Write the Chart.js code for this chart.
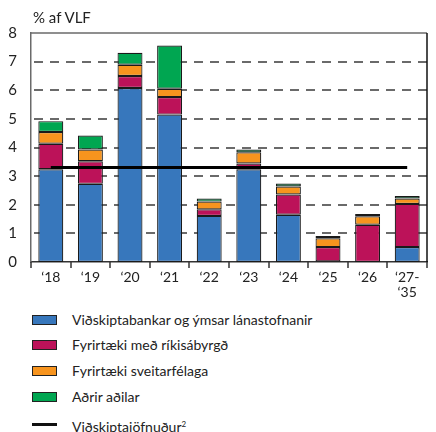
<!DOCTYPE html>
<html>
<head>
<meta charset="utf-8">
<script src="https://cdn.jsdelivr.net/npm/chart.js@4/dist/chart.umd.min.js"></script>
<style>
  body { margin: 0; background: #fff; font-family: Lato, sans-serif; color: #222; }
  #wrap { position: relative; width: 436px; height: 432px; }
  #chart-box { position: absolute; left: 0; top: 0; width: 436px; height: 300px; }
  #unit { position: absolute; left: 33px; top: 8px; font-size: 15px; }
  .leg { position: absolute; left: 31px; font-size: 14px; height: 20px; line-height: 20px; }
  .leg .sw { position: absolute; left: 1px; top: 5px; width: 23px; height: 8px; border: 1px solid #222; }
  .leg .ln { position: absolute; left: 1px; top: 9px; width: 25px; height: 3px; background: #111; }
  .leg span.t { position: absolute; left: 41px; white-space: nowrap; }
  sup { font-size: 8px; vertical-align: 5px; }
</style>
</head>
<body>
<div id="wrap">
  <div id="chart-box"><canvas id="chart"></canvas></div>
  <div id="unit">% af VLF</div>
  <div id="legend"></div>
</div>
<script>
const labels = ['‘18', '‘19', '‘20', '‘21', '‘22', '‘23', '‘24', '‘25', '‘26', ['‘27-', '‘35']];
const banks = [3.24, 2.73, 6.08, 5.15, 1.61, 3.24, 1.65, 0.02, 0, 0.52];
const stateGuaranteed = [0.89, 0.79, 0.42, 0.61, 0.23, 0.20, 0.71, 0.50, 1.30, 1.51];
const municipal = [0.41, 0.41, 0.39, 0.29, 0.27, 0.39, 0.28, 0.31, 0.30, 0.19];
const others = [0.38, 0.49, 0.42, 1.51, 0.11, 0.10, 0.10, 0.08, 0.08, 0.09];
const currentAccount = [3.3, 3.3, 3.3, 3.3, 3.3, 3.3, 3.3, 3.3, 3.3, 3.3];
const yMin = 0;
const yMax = 8;
const yStep = 1;

const series = [
    { label: 'Viðskiptabankar og ýmsar lánastofnanir', data: banks, color: '#3777bc' },
    { label: 'Fyrirtæki með ríkisábyrgð', data: stateGuaranteed, color: '#bc1259' },
    { label: 'Fyrirtæki sveitarfélaga', data: municipal, color: '#f7941e' },
    { label: 'Aðrir aðilar', data: others, color: '#00a651' }
];

// dashed gridlines, x tick marks and the top/right frame, placed with the chart's own scales
const frame = {
    id: 'frame',
    beforeDatasetsDraw(chart) {
        const { ctx, chartArea: a, scales: { x, y } } = chart;
        ctx.save();
        ctx.lineWidth = 1.5;
        ctx.strokeStyle = '#3a3a3a';
        ctx.setLineDash([9, 7]);
        y.ticks.forEach(t => {
            if (t.value <= yMin || t.value >= yMax) return;
            const py = Math.round(y.getPixelForValue(t.value));
            ctx.beginPath();
            ctx.moveTo(a.left + 3, py);
            ctx.lineTo(a.right, py);
            ctx.stroke();
        });
        ctx.setLineDash([]);
        ctx.lineWidth = 1.5;
        ctx.strokeStyle = '#333';
        for (let i = 0; i <= labels.length; i++) {
            const px = Math.round(x.getPixelForValue(i - 0.5));
            ctx.beginPath();
            ctx.moveTo(px, a.bottom);
            ctx.lineTo(px, a.bottom + 6);
            ctx.stroke();
        }
        ctx.restore();
    },
    afterDatasetsDraw(chart) {
        const { ctx, chartArea: a } = chart;
        ctx.save();
        ctx.setLineDash([]);
        ctx.lineWidth = 1.5;
        ctx.strokeStyle = '#6a6a6a';
        ctx.beginPath();
        ctx.moveTo(a.left, a.top);
        ctx.lineTo(a.right, a.top);
        ctx.stroke();
        ctx.strokeStyle = '#111';
        ctx.beginPath();
        ctx.moveTo(a.right, a.top);
        ctx.lineTo(a.right, a.bottom);
        ctx.stroke();
        ctx.restore();
    }
};

const datasets = series.map(s => ({
    label: s.label,
    data: s.data,
    backgroundColor: s.color,
    borderColor: '#1a1a1a',
    borderWidth: 1.2,
    borderSkipped: false,
    stack: 'bars',
    order: 1
}));
datasets.push({
    type: 'line',
    label: 'Viðskiptajöfnuður',
    data: currentAccount,
    borderColor: '#000',
    borderWidth: 3,
    pointRadius: 0,
    stack: 'line',
    order: 0
});

new Chart(document.getElementById('chart'), {
    type: 'bar',
    data: { labels: labels, datasets: datasets },
    plugins: [frame],
    options: {
        responsive: true,
        maintainAspectRatio: false,
        animation: false,
        layout: { padding: { top: 33, right: 9, left: 0, bottom: 0 } },
        datasets: { bar: { categoryPercentage: 1, barPercentage: 0.63 } },
        plugins: { legend: { display: false }, tooltip: { enabled: false } },
        scales: {
            x: {
                stacked: true,
                afterFit: (scale) => { scale.height = 38; },
                grid: { display: false },
                border: { color: '#333', width: 1.5 },
                ticks: {
                    color: '#222',
                    padding: 0,
                    maxRotation: 0,
                    autoSkip: false,
                    font: { family: 'Lato', size: 14, lineHeight: 1.05 }
                }
            },
            y: {
                stacked: true,
                min: yMin,
                max: yMax,
                afterFit: (scale) => { scale.width = 31; },
                grid: { display: false },
                border: { color: '#6a6a6a', width: 1.5 },
                ticks: {
                    stepSize: yStep,
                    color: '#222',
                    padding: 6,
                    font: { family: 'Lato', size: 15 }
                }
            }
        }
    }
});

const legendBox = document.getElementById('legend');
const rows = [310, 335, 361, 387, 414];
series.forEach((s, i) => {
    const d = document.createElement('div');
    d.className = 'leg';
    d.style.top = rows[i] + 'px';
    d.innerHTML = '<div class="sw" style="background:' + s.color + '"></div><span class="t"></span>';
    d.querySelector('.t').textContent = s.label;
    legendBox.appendChild(d);
});
const lineRow = document.createElement('div');
lineRow.className = 'leg';
lineRow.style.top = rows[4] + 'px';
lineRow.innerHTML = '<div class="ln"></div><span class="t">Viðskiptajöfnuður<sup>2</sup></span>';
legendBox.appendChild(lineRow);
</script>
</body>
</html>
